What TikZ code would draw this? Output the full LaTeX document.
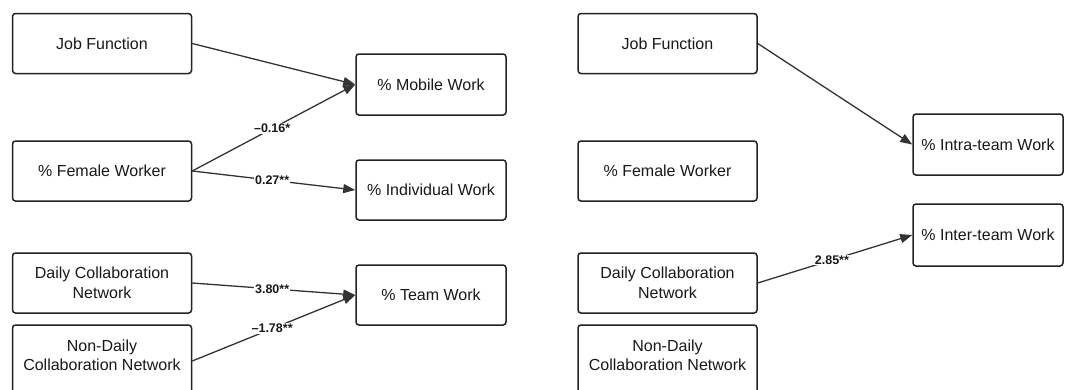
\documentclass[tikz,border=0pt]{standalone}
\usepackage{fontspec}
\setmainfont{Liberation Sans}
\usetikzlibrary{arrows.meta}
\definecolor{edgegray}{HTML}{333333}
\definecolor{boxline}{HTML}{222222}
\tikzset{
  var/.style={draw=boxline, line width=1.5pt, rounded corners=3pt, fill=white,
    align=center, inner sep=2pt, font=\fontsize{16}{19.5}\selectfont, text=black!90},
  srcbox/.style={var, minimum width=179pt, minimum height=60pt},
  outbox/.style={var, minimum width=150pt, minimum height=61pt},
  path/.style={draw=edgegray, line width=1.3pt,
    -{Triangle[length=12pt,width=9pt]}},
  coef/.style={fill=white, inner sep=1pt, font=\bfseries\fontsize{12.5}{14}\selectfont,
    pos=0.49, text=black!90}
}
\begin{document}
\begin{tikzpicture}[x=1pt,y=-1pt]
  \useasboundingbox (0,0) rectangle (1066,389);
  % left model: sources
  \node[srcbox] (jfA) at (102,43.5) {Job Function};
  \node[srcbox] (fwA) at (102,171) {\% Female Worker};
  \node[srcbox] (dcA) at (102,283) {Daily Collaboration\\Network};
  \node[srcbox, minimum height=72pt, text depth=12pt] (ndA) at (102,361) {Non-Daily\\Collaboration Network};
  % left model: outcomes
  \node[outbox] (mw) at (431,84.5) {\% Mobile Work};
  \node[outbox, minimum height=60pt] (iw) at (431,190) {\% Individual Work};
  \node[outbox, minimum height=60pt] (tw) at (431,295) {\% Team Work};
  % right model: sources
  \node[srcbox] (jfB) at (667.5,43.5) {Job Function};
  \node[srcbox] (fwB) at (667.5,171) {\% Female Worker};
  \node[srcbox] (dcB) at (667.5,283) {Daily Collaboration\\Network};
  \node[srcbox, minimum height=72pt, text depth=12pt] (ndB) at (667.5,361) {Non-Daily\\Collaboration Network};
  % right model: outcomes
  \node[outbox] (ia) at (988,144.5) {\% Intra-team Work};
  \node[outbox, minimum height=62pt] (ie) at (988,235) {\% Inter-team Work};
  % paths
  \draw[path] (jfA.east) -- (mw.west);
  \draw[path] (fwA.east) -- node[coef] {–0.16*} (mw.west);
  \draw[path] (fwA.east) -- node[coef] {0.27**} (iw.west);
  \draw[path] (dcA.east) -- node[coef] {3.80**} (tw.west);
  \draw[path] (ndA.east) -- node[coef] {–1.78**} (tw.west);
  \draw[path] (jfB.east) -- (ia.west);
  \draw[path] (dcB.east) -- node[coef, pos=0.48] {2.85**} (ie.west);
\end{tikzpicture}
\end{document}
